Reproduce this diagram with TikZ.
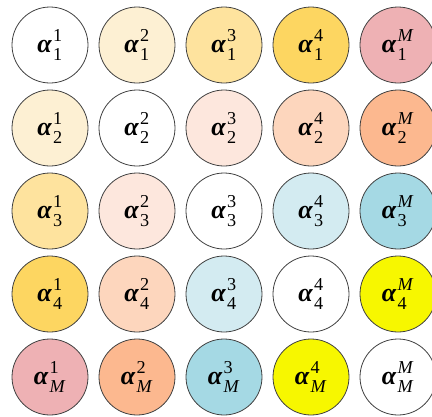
\documentclass[tikz,border=0pt]{standalone}
\usepackage{amsmath}
\usepackage{fontspec}
\setmainfont{Liberation Serif}
\definecolor{cA}{HTML}{FDF0D3}
\definecolor{cB}{HTML}{FEE39E}
\definecolor{cC}{HTML}{FDD661}
\definecolor{cD}{HTML}{EEB1B4}
\definecolor{cE}{HTML}{FDE7DD}
\definecolor{cF}{HTML}{FDD6BD}
\definecolor{cG}{HTML}{FCB88F}
\definecolor{cH}{HTML}{D3EBF1}
\definecolor{cI}{HTML}{A5D9E4}
\definecolor{cJ}{HTML}{F7F700}
\tikzset{
  cell/.style={circle, draw=black!75, line width=0.8pt, minimum size=76pt, inner sep=0pt,
    font=\fontsize{26}{28}\selectfont},
}
\newcommand{\al}[2]{$\text{\bfseries\itshape α}\kern1.5pt^{\text{\raisebox{2pt}{\normalfont #2}}}_{\text{\raisebox{-2.5pt}{\normalfont #1}}}$}
\newcommand{\mm}{\textit{M}}
\begin{document}
\begin{tikzpicture}[x=1pt,y=-1pt]
\useasboundingbox (0,0) rectangle (432,416);
\def\colx{{50,137,224,311,398}}
\def\rowy{{45,128,211,294,377}}
\foreach \r/\rl/\cols in {
  0/1/{white,cA,cB,cC,cD},
  1/2/{cA,white,cE,cF,cG},
  2/3/{cB,cE,white,cH,cI},
  3/4/{cC,cF,cH,white,cJ},
  4/\mm/{cD,cG,cI,cJ,white}}{
  \foreach \cc [count=\c from 0] in \cols {
    \pgfmathsetmacro{\xx}{\colx[\c]}
    \pgfmathsetmacro{\yy}{\rowy[\r]}
    \pgfmathtruncatemacro{\cl}{\c+1}
    \ifnum\cl=5 \def\cl{\mm}\fi
    \node[cell, fill=\cc] (n\r\c) at (\xx,\yy) {\al{\rl}{\cl}};
  }
}
\end{tikzpicture}
\end{document}
